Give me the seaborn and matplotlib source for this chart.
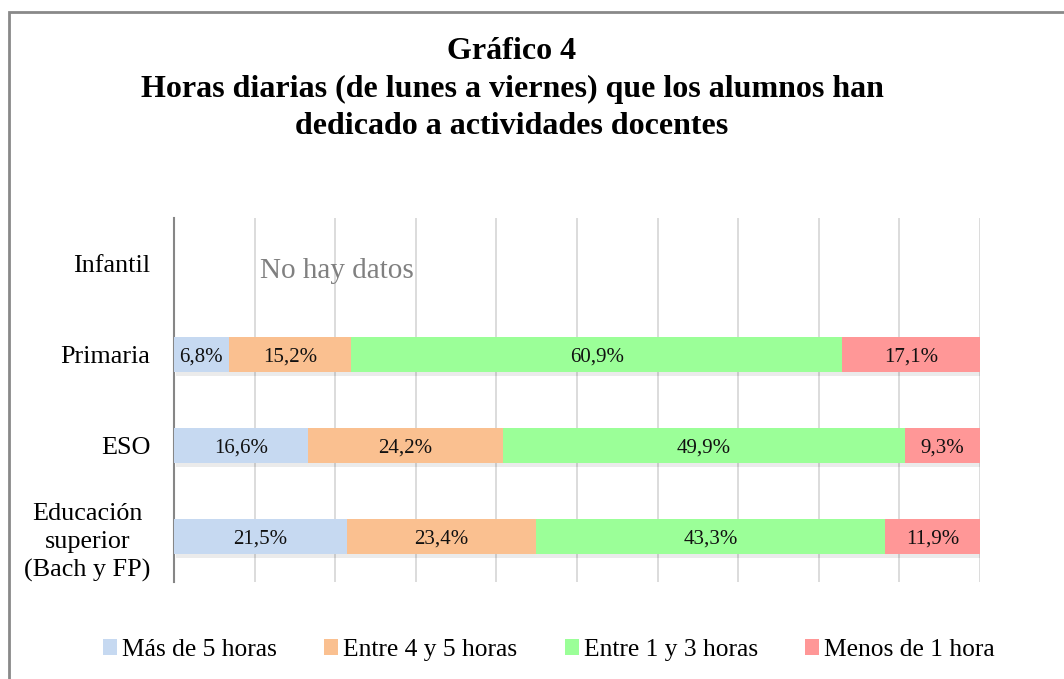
"""Gráfico 4: horas diarias dedicadas a actividades docentes (barras apiladas 100%)."""

import matplotlib

matplotlib.use("Agg")

import matplotlib.pyplot as plt
import matplotlib.patheffects as pe
import numpy as np
import pandas as pd
import seaborn as sns
from matplotlib.patches import Rectangle


categorias = ["Infantil", "Primaria", "ESO", "Educación\nsuperior\n(Bach y FP)"]
categorias_con_datos = ["Primaria", "ESO", "Educación\nsuperior\n(Bach y FP)"]
series = ["Más de 5 horas", "Entre 4 y 5 horas", "Entre 1 y 3 horas", "Menos de 1 hora"]
mas_5 = [6.8, 16.6, 21.5]
entre_4_5 = [15.2, 24.2, 23.4]
entre_1_3 = [60.9, 49.9, 43.3]
menos_1 = [17.1, 9.3, 11.9]
colores = ["#C6D9F1", "#FAC090", "#9BFF98", "#FF9797"]

titulo = "Gráfico 4\nHoras diarias (de lunes a viernes) que los alumnos han\ndedicado a actividades docentes"

sns.set_theme(style="white")
plt.rcParams["font.family"] = ["Liberation Serif", "DejaVu Serif"]

valores = np.array([mas_5, entre_4_5, entre_1_3, menos_1]).T
acumulado = valores.cumsum(axis=1)

fig = plt.figure(figsize=(10.64, 6.79), dpi=100)
ax = fig.add_axes([174 / 1064, 1 - 582 / 679, 806 / 1064, 364 / 679])

# se dibuja de la serie acumulada mayor a la menor para simular el apilado
for i in reversed(range(len(series))):
    df = pd.DataFrame({"categoria": categorias_con_datos, "valor": acumulado[:, i]})
    sns.barplot(
        data=df,
        x="valor",
        y="categoria",
        order=categorias,
        orient="h",
        color=colores[i],
        width=0.39,
        saturation=1,
        linewidth=0,
        errorbar=None,
        ax=ax,
        zorder=3,
    )

# sombra suave solo en la barra completa (la primera dibujada)
sombra = [pe.SimplePatchShadow(offset=(1.5, -2.5), shadow_rgbFace="#000000", alpha=0.08), pe.Normal()]
for bar in ax.patches[: len(categorias_con_datos)]:
    bar.set_path_effects(sombra)

for fila, cat in enumerate(categorias_con_datos):
    y = categorias.index(cat)
    for i in range(len(series)):
        centro = acumulado[fila, i] - valores[fila, i] / 2
        ax.text(centro, y, f"{valores[fila, i]:.1f}%".replace(".", ","),
                ha="center", va="center_baseline", fontsize=15, color="#111111", zorder=5)

ax.text(10.7, 0.05, "No hay datos", ha="left", va="center_baseline", fontsize=21, color="#808080")

ax.set_xlim(0, 100)
ax.set_ylim(3.5, -0.5)
ax.set_xticks(np.arange(0, 101, 10))
ax.set_xticklabels([])
ax.grid(axis="x", color="#D9D9D9", linewidth=1.3, zorder=0)
ax.set_axisbelow(True)
ax.set_xlabel("")
ax.set_ylabel("")
for lado in ["top", "right", "bottom"]:
    ax.spines[lado].set_visible(False)
ax.spines["left"].set_color("#868686")
ax.spines["left"].set_linewidth(1.5)
ax.tick_params(axis="y", length=0, pad=17, labelsize=18.8, labelcolor="black")
ax.tick_params(axis="x", length=0)
for etiqueta in ax.get_yticklabels():
    etiqueta.set_multialignment("center")
    etiqueta.set_linespacing(1.35)

fig.text(512 / 1064, 1 - 89 / 679, titulo, ha="center", va="center",
         fontsize=23, fontweight="bold", linespacing=1.38, color="black")

manijas = [Rectangle((0, 0), 1, 1, facecolor=c, edgecolor="none") for c in colores]
fig.legend(manijas, series, loc="center", bbox_to_anchor=(549 / 1064, 1 - 650 / 679),
           ncol=4, frameon=False, fontsize=18.4, handlelength=0.55, handleheight=0.55,
           handletextpad=0.2, columnspacing=1.85, labelcolor="black")

fig.patches.append(Rectangle((9 / 1064, -0.2), 1.2, 1 - 12 / 679 + 0.2,
                             transform=fig.transFigure, fill=False,
                             edgecolor="#898989", linewidth=2))

fig.savefig("out.png", dpi=100)
plt.close(fig)
